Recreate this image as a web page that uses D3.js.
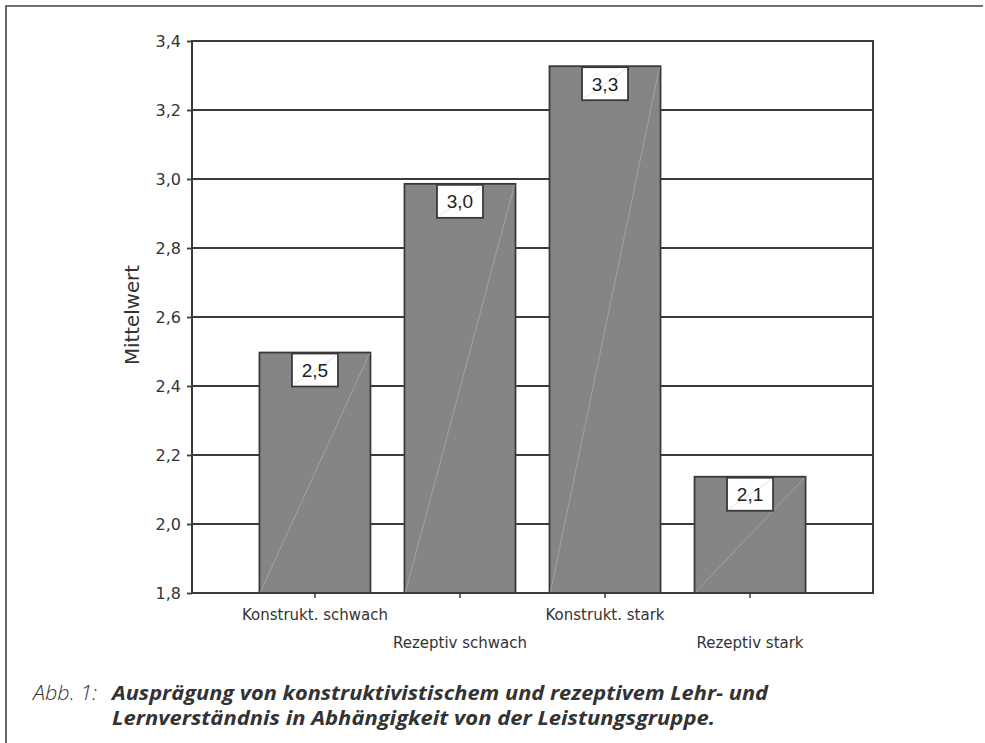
<!DOCTYPE html>
<html>
<head>
<meta charset="utf-8">
<script src="https://cdn.jsdelivr.net/npm/d3@7/dist/d3.min.js"></script>
<style>
  html, body { margin: 0; padding: 0; background: #fff; }
  svg { display: block; }
</style>
</head>
<body>
<svg id="chart" width="985" height="743"></svg>
<script>
// ---- data ----
const categories = ["Konstrukt. schwach", "Rezeptiv schwach", "Konstrukt. stark", "Rezeptiv stark"];
const values = [2.497, 2.986, 3.327, 2.137];
const valueLabels = ["2,5", "3,0", "3,3", "2,1"];
const yTicks = [1.8, 2.0, 2.2, 2.4, 2.6, 2.8, 3.0, 3.2, 3.4];
const yTitle = "Mittelwert";
const captionPrefix = "Abb. 1:";
const captionLines = ["Ausprägung von konstruktivistischem und rezeptivem Lehr- und",
                      "Lernverständnis in Abhängigkeit von der Leistungsgruppe."];

(function () {
// ---- layout ----
const svg = d3.select("#chart");
const pL = 192, pR = 873, pT = 41, pB = 593;
const dark = "#3a3a3a";
const axisFont = "'DejaVu Sans', sans-serif";

// outer frame (top and left edges)
svg.append("path")
  .attr("d", "M6,743 L6,6 L983,6")
  .attr("fill", "none").attr("stroke", "#444").attr("stroke-width", 1.6);

const x = d3.scaleBand().domain(categories).range([pL, pR])
  .paddingInner(0.2345).paddingOuter(0.465);
const y = d3.scaleLinear().domain([1.8, 3.4]).range([pB, pT]);

// gridlines
svg.append("g").selectAll("line").data(yTicks).join("line")
  .attr("x1", pL).attr("x2", pR)
  .attr("y1", d => y(d)).attr("y2", d => y(d))
  .attr("stroke", dark).attr("stroke-width", 1.8);

// y axis
const yAxis = d3.axisLeft(y).tickValues(yTicks).tickSize(5).tickPadding(6)
  .tickFormat(d => d3.format(".1f")(d).replace(".", ","));
const gy = svg.append("g").attr("transform", `translate(${pL},0)`).call(yAxis);
gy.select(".domain").remove();
gy.selectAll(".tick line").attr("stroke", dark).attr("stroke-width", 1.8);
gy.selectAll(".tick text").attr("font-family", axisFont)
  .attr("font-size", 16).attr("fill", "#333");

// bars
const bars = svg.append("g");
bars.selectAll("rect").data(values).join("rect")
  .attr("x", (d, i) => x(categories[i]))
  .attr("width", x.bandwidth())
  .attr("y", d => y(d))
  .attr("height", d => pB - y(d))
  .attr("fill", "#858587")
  .attr("stroke", dark).attr("stroke-width", 1.8);
// faint diagonal artefact
bars.selectAll("line.diag").data(values).join("line").attr("class", "diag")
  .attr("x1", (d, i) => x(categories[i]) + 1)
  .attr("y1", pB - 1)
  .attr("x2", (d, i) => x(categories[i]) + x.bandwidth() - 1)
  .attr("y2", d => y(d) + 1)
  .attr("stroke", "#a8a8aa").attr("stroke-width", 0.8);

// plot frame
svg.append("rect").attr("x", pL).attr("y", pT)
  .attr("width", pR - pL).attr("height", pB - pT)
  .attr("fill", "none").attr("stroke", dark).attr("stroke-width", 2);

// x axis ticks
svg.append("g").selectAll("line").data(categories).join("line")
  .attr("x1", d => x(d) + x.bandwidth() / 2).attr("x2", d => x(d) + x.bandwidth() / 2)
  .attr("y1", pB).attr("y2", pB + 5)
  .attr("stroke", dark).attr("stroke-width", 1.5);

// x labels (staggered)
svg.append("g").selectAll("text").data(categories).join("text")
  .attr("x", d => x(d) + x.bandwidth() / 2)
  .attr("y", (d, i) => i % 2 === 0 ? 620 : 648)
  .attr("text-anchor", "middle")
  .attr("font-family", axisFont)
  .attr("font-size", 15).attr("fill", "#333")
  .text(d => d);

// value label boxes
const bw = 46, bh = 33;
const lab = svg.append("g").selectAll("g").data(values).join("g")
  .attr("transform", (d, i) => `translate(${x(categories[i]) + x.bandwidth() / 2 - bw / 2},${y(d) + 1})`);
lab.append("rect").attr("width", bw).attr("height", bh)
  .attr("fill", "#fff").attr("stroke", dark).attr("stroke-width", 1.8);
lab.append("line").attr("x1", 2).attr("y1", bh - 2).attr("x2", bw - 2).attr("y2", 2)
  .attr("stroke", "#d8d8d8").attr("stroke-width", 0.8);
lab.append("text").attr("x", bw / 2).attr("y", bh / 2 + 7)
  .attr("text-anchor", "middle")
  .attr("font-family", "Arial, 'Liberation Sans', sans-serif")
  .attr("font-size", 19).attr("fill", "#222")
  .text((d, i) => valueLabels[i]);

// y title
svg.append("text")
  .attr("transform", "translate(139,315) rotate(-90)")
  .attr("text-anchor", "middle")
  .attr("font-family", axisFont)
  .attr("font-size", 19).attr("fill", "#333")
  .attr("textLength", 100).attr("lengthAdjust", "spacingAndGlyphs")
  .text(yTitle);

// caption
const capFont = "'Open Sans', 'Noto Sans', sans-serif";
svg.append("text").attr("x", 33).attr("y", 700)
  .attr("font-family", capFont).attr("font-style", "italic").attr("font-weight", 300)
  .attr("font-size", 20).attr("fill", "#333")
  .attr("textLength", 64).attr("lengthAdjust", "spacingAndGlyphs")
  .text(captionPrefix);
const capLens = [656, 603];
svg.append("g").selectAll("text").data(captionLines).join("text")
  .attr("x", 112).attr("y", (d, i) => 700 + i * 25)
  .attr("font-family", capFont).attr("font-style", "italic").attr("font-weight", 700)
  .attr("font-size", 20).attr("fill", "#333")
  .attr("textLength", (d, i) => capLens[i]).attr("lengthAdjust", "spacingAndGlyphs")
  .text(d => d);
})();
</script>
</body>
</html>
